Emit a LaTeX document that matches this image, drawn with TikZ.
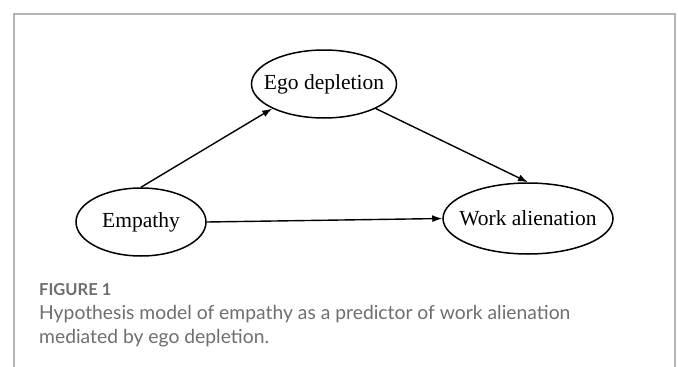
\documentclass[tikz,border=0pt]{standalone}
\usepackage{fontspec}
\setmainfont{Liberation Serif}
\newfontfamily\capfont{Lato}
\usetikzlibrary{
  arrows.meta,
  shapes.geometric,
  positioning
}
\definecolor{framegray}{HTML}{B4B4B4}
\definecolor{capgray}{HTML}{6E6E6E}
\tikzset{
  var/.style={
    ellipse, draw, line width=1.5pt, inner sep=0pt,
    font=\fontsize{21.5}{24}\selectfont
  },
  link/.style={-{Latex[length=10pt,width=7pt]}, line width=1.4pt},
  frame/.style={draw=framegray, line width=1.6pt},
  capnote/.style={font=\capfont\bfseries\fontsize{16.5}{18}\selectfont, text=capgray, inner sep=0pt},
  captext/.style={font=\capfont\fontsize{19.3}{22}\selectfont, text=capgray, inner sep=0pt},
}

\begin{document}
\begin{tikzpicture}[x=1pt,y=1pt]
\useasboundingbox (0,0) rectangle (678,-367);

% open frame round the figure
\draw[frame] (14,-367) -- (14,-14) -- (675,-14) -- (675,-367);

% the three variables
\node[var, minimum width=130pt, minimum height=68pt] (emp) at (141,-222) {\makebox[0pt]{Empathy}};
\node[var, minimum width=145pt, minimum height=68pt] (ego) at (324,-84) {\makebox[0pt]{Ego depletion}};
\node[var, minimum width=170pt, minimum height=71pt] (work) at (528,-218.5) {\makebox[0pt]{Work alienation}};

% paths
\draw[link] (emp.north) -- (ego.south west);
\draw[link] (ego.south east) -- (work.north);
\draw[link] (emp.east) -- (work.west);

% caption
\node[capnote, anchor=base west] (fig) at (39,-295) {FIGURE 1};
\node[captext, anchor=base west] (cap1) at (39,-319.5) {Hypothesis model of empathy as a predictor of work alienation};
\node[captext, anchor=base west] (cap2) at (39,-343.5) {mediated by ego depletion.};

\end{tikzpicture}
\end{document}
